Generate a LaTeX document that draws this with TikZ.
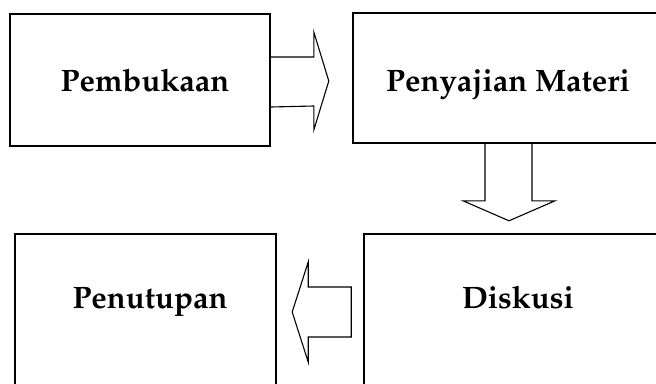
\documentclass[tikz,border=0pt]{standalone}
\usepackage[T1]{fontenc}
\usepackage{mathpazo}
\usetikzlibrary{calc}

\begin{document}
\begin{tikzpicture}[x=1pt, y=-1pt,
	box/.style={draw, line width=1.6pt, inner sep=0pt},
	lbl/.style={font=\fontsize{31}{36}\selectfont\bfseries, anchor=base},
	blockarrow/.style={draw, line width=1.1pt, line join=miter}]
	\useasboundingbox (0,0) rectangle (656,383);
	\clip (0,0) rectangle (656,383);
	% the four boxes
	\node [box, minimum width=260pt, minimum height=132pt] (open) at (140,80) {};
	\node [box, minimum width=310pt, minimum height=130pt] (materi) at (508,78) {};
	\node [box, minimum width=308pt, minimum height=156pt] (diskusi) at (518,312) {};
	\node [box, minimum width=261pt, minimum height=156pt] (tutup) at (145.5,312) {};
	\node [lbl] (openlbl) at ($(open.north)+(5,78)$) {Pembukaan};
	\node [lbl] (materilbl) at ($(materi.north)+(0,79)$) {Penyajian Materi};
	\node [lbl] (diskusilbl) at ($(diskusi.north)+(0,75)$) {Diskusi};
	\node [lbl] (tutuplbl) at ($(tutup.north)+(4.5,75)$) {Penutupan};
	% block arrows
	\draw [blockarrow] ($(open.east)+(0,-23)$) -- ++(43,0) -- ++(0,-25) -- ++(15,49) -- ++(-15,49) -- ++(0,-24) -- ($(open.east)+(0,27)$);
	\draw [blockarrow] ($(materi.south)+(-23,0)$) -- ++(0,57) -- ++(-22,0) -- ++(46,20) -- ++(46,-20) -- ++(-23,0) -- ($(materi.south)+(24,0)$);
	\draw [blockarrow] ($(diskusi.west)+(-12,-25)$) -- ++(-43,0) -- ++(0,-25) -- ++(-16,50) -- ++(16,50) -- ++(0,-25) -- ++(43,0) -- cycle;
\end{tikzpicture}
\end{document}
